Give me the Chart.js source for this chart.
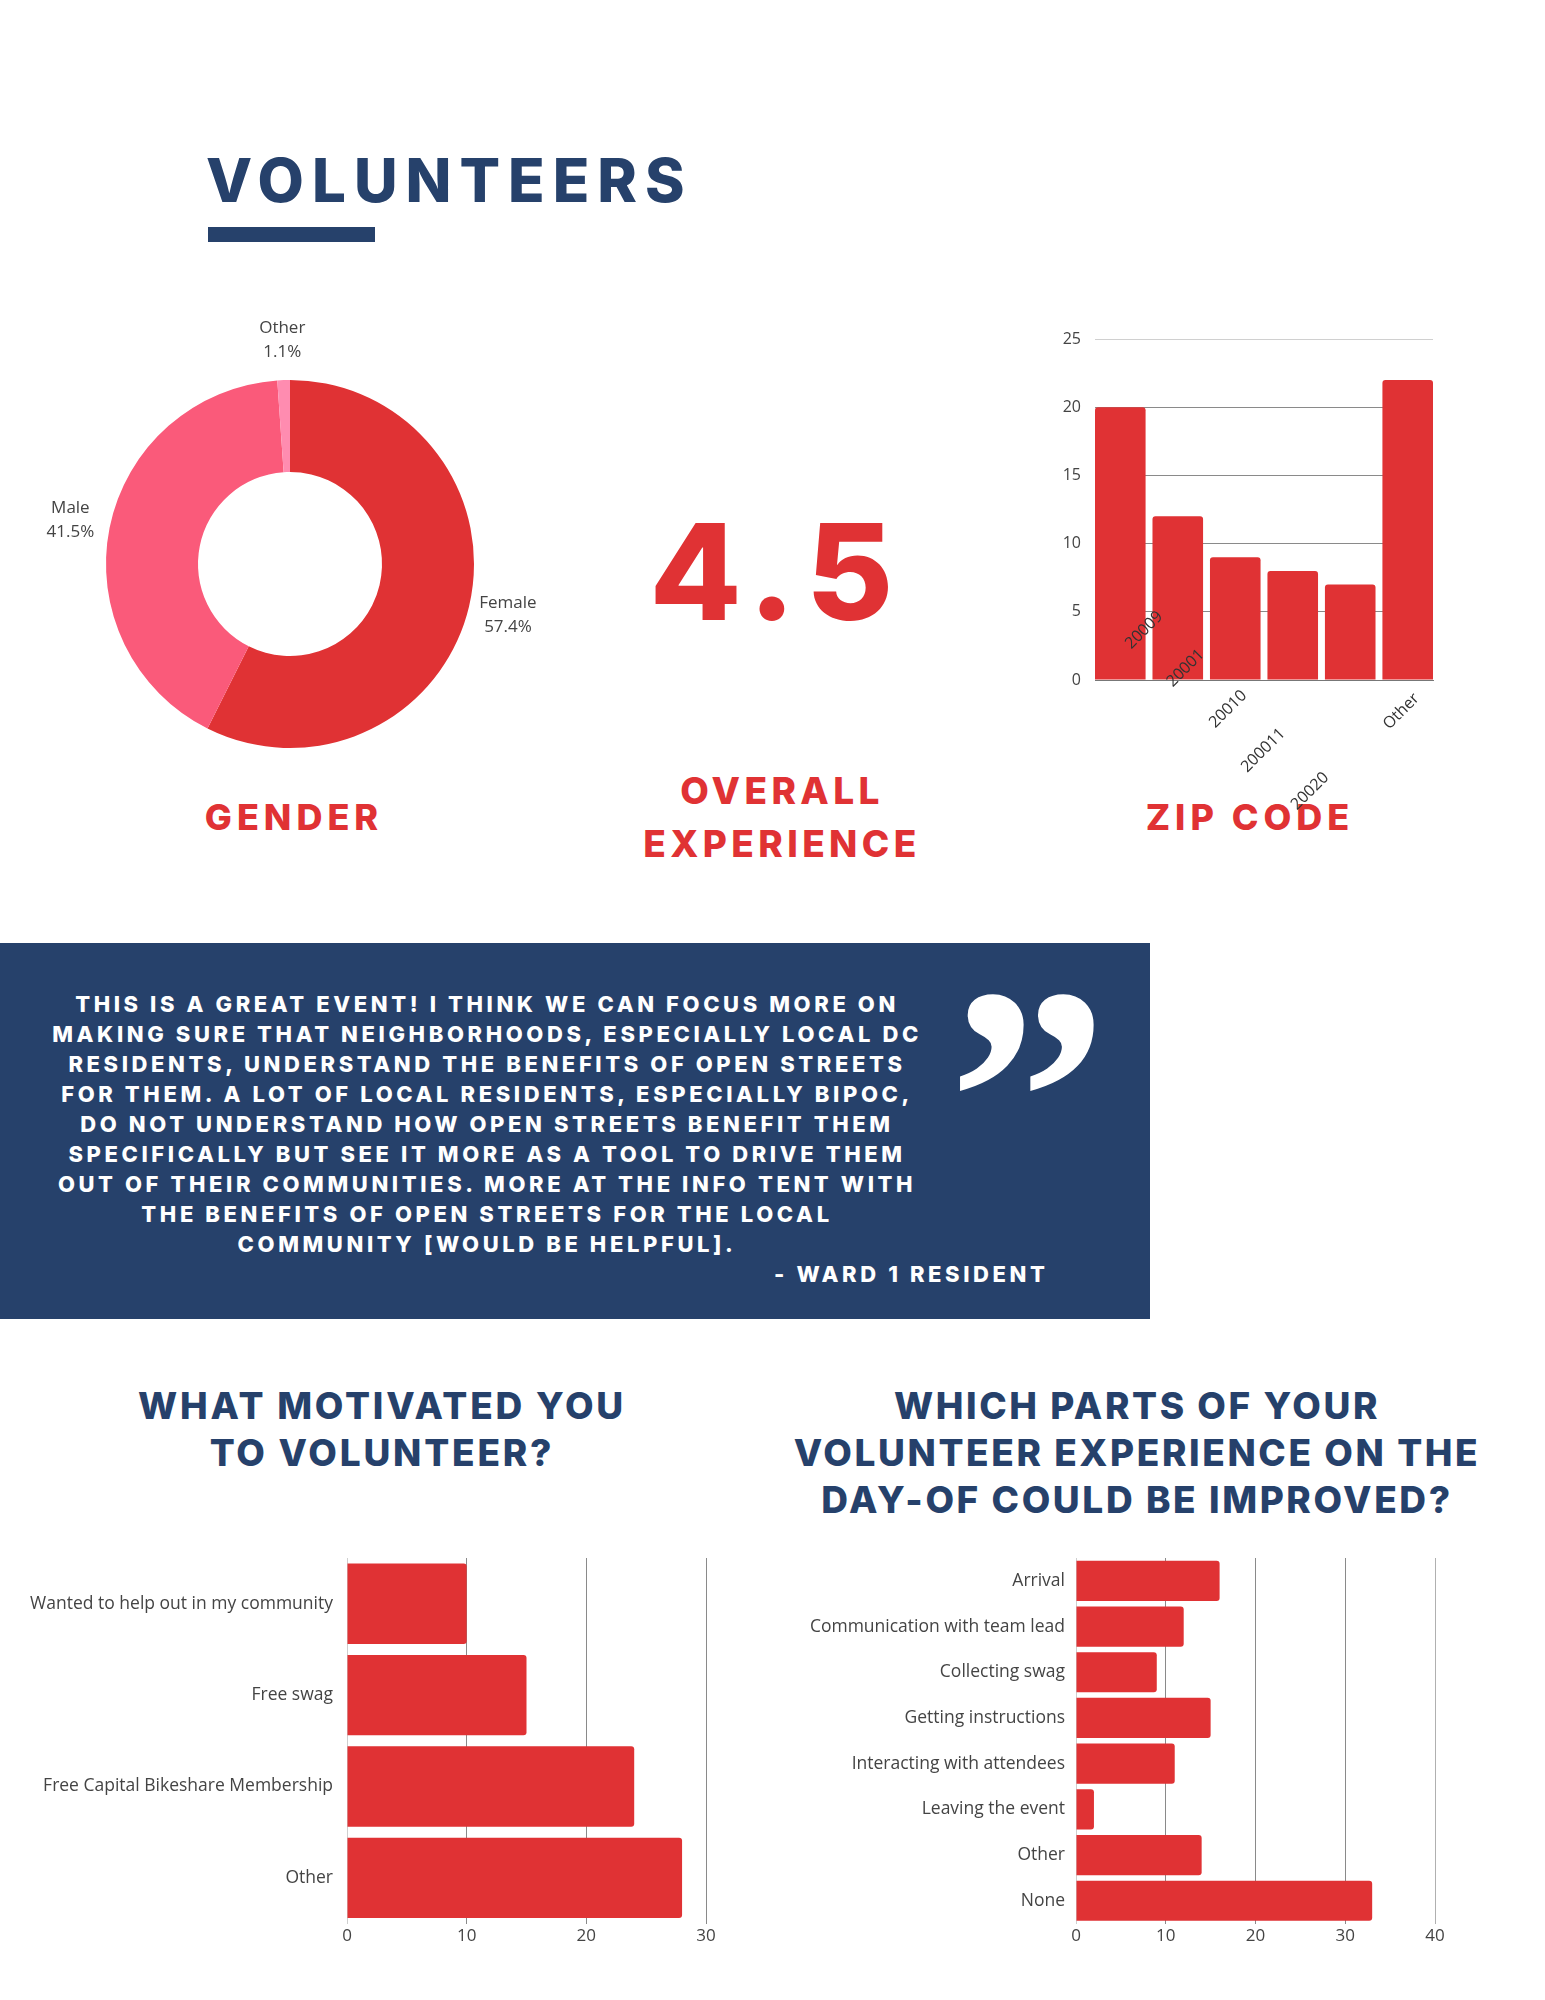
<!DOCTYPE html>
<html>
<head>
<meta charset="utf-8">
<script src="https://cdn.jsdelivr.net/npm/chart.js@4.4.1/dist/chart.umd.min.js"></script>
<style>
  html, body { margin:0; padding:0; background:#fff; }
  #page { position:relative; width:1545px; height:2000px; overflow:hidden; background:#fff; }
  .t { position:absolute; white-space:nowrap; line-height:1; font-family:Inter, 'DejaVu Sans', sans-serif; font-weight:800; }
  .c { transform:translateX(-50%); }
  .navy { color:#26416b; }
  .red { color:#e03234; }
  canvas { position:absolute; }
  #quoteBox { position:absolute; left:0; top:943px; width:1150px; height:376px; background:#26416b; }
  .q { position:absolute; left:487px; transform:translateX(-50%); white-space:nowrap; color:#fff;
       font-family:Inter, 'DejaVu Sans', sans-serif; font-weight:800; font-size:22px; line-height:1; letter-spacing:3.6px; }
</style>
</head>
<body>
<div id="page">
  <div class="t navy" style="left:206px; top:150px; font-size:60px; letter-spacing:8px;">VOLUNTEERS</div>
  <div style="position:absolute; left:208px; top:227px; width:167px; height:15px; background:#26416b;"></div>

  <div class="t red c" style="left:294px; top:799px; font-size:36px; letter-spacing:5px;">GENDER</div>
  <div class="t red c" style="left:777px; top:504px; font-size:134px; letter-spacing:11px;">4.5</div>
  <div class="t red c" style="left:782px; top:772px; font-size:37px; letter-spacing:4.4px;">OVERALL</div>
  <div class="t red c" style="left:782px; top:825px; font-size:37px; letter-spacing:4.4px;">EXPERIENCE</div>
  <div class="t red c" style="left:1250px; top:799px; font-size:36px; letter-spacing:5px;">ZIP CODE</div>

  <div id="quoteBox"></div>
  <div class="q" style="top:993px;">THIS IS A GREAT EVENT! I THINK WE CAN FOCUS MORE ON</div>
  <div class="q" style="top:1023px;">MAKING SURE THAT NEIGHBORHOODS, ESPECIALLY LOCAL DC</div>
  <div class="q" style="top:1053px;">RESIDENTS, UNDERSTAND THE BENEFITS OF OPEN STREETS</div>
  <div class="q" style="top:1083px;">FOR THEM. A LOT OF LOCAL RESIDENTS, ESPECIALLY BIPOC,</div>
  <div class="q" style="top:1113px;">DO NOT UNDERSTAND HOW OPEN STREETS BENEFIT THEM</div>
  <div class="q" style="top:1143px;">SPECIFICALLY BUT SEE IT MORE AS A TOOL TO DRIVE THEM</div>
  <div class="q" style="top:1173px;">OUT OF THEIR COMMUNITIES. MORE AT THE INFO TENT WITH</div>
  <div class="q" style="top:1203px;">THE BENEFITS OF OPEN STREETS FOR THE LOCAL</div>
  <div class="q" style="top:1233px;">COMMUNITY [WOULD BE HELPFUL].</div>
  <div class="q" style="left:774px; transform:none; top:1263px;">- WARD 1 RESIDENT</div>
  <div style="position:absolute; left:948px; top:939px; color:#fff; font-family:'Liberation Serif', serif; font-weight:bold; font-size:320px; line-height:1;">&#8221;</div>

  <div class="t navy c" style="left:382px; top:1387px; font-size:37px; letter-spacing:2.8px;">WHAT MOTIVATED YOU</div>
  <div class="t navy c" style="left:382px; top:1434px; font-size:37px; letter-spacing:2.8px;">TO VOLUNTEER?</div>
  <div class="t navy c" style="left:1137px; top:1387px; font-size:37px; letter-spacing:2.6px;">WHICH PARTS OF YOUR</div>
  <div class="t navy c" style="left:1137px; top:1434px; font-size:37px; letter-spacing:2.6px;">VOLUNTEER EXPERIENCE ON THE</div>
  <div class="t navy c" style="left:1137px; top:1481px; font-size:37px; letter-spacing:2.6px;">DAY-OF COULD BE IMPROVED?</div>

  <canvas id="genderChart" width="580" height="560" style="left:0; top:290px;"></canvas>
  <canvas id="zipChart" width="420" height="530" style="left:1030px; top:310px;"></canvas>
  <canvas id="motiveChart" width="740" height="420" style="left:0; top:1540px;"></canvas>
  <canvas id="improveChart" width="740" height="420" style="left:760px; top:1540px;"></canvas>
</div>

<script>
// data
const genderLabels = ['Female', 'Male', 'Other'];
const genderPct = [57.4, 41.5, 1.1];

const zipCodes = ['20009', '20001', '20010', '200011', '20020', 'Other'];
const zipCounts = [20, 12, 9, 8, 7, 22];
const zipTicks = [0, 5, 10, 15, 20, 25];

const motiveLabels = ['Wanted to help out in my community', 'Free swag', 'Free Capital Bikeshare Membership', 'Other'];
const motiveCounts = [10, 15, 24, 28];

const improveLabels = ['Arrival', 'Communication with team lead', 'Collecting swag', 'Getting instructions',
  'Interacting with attendees', 'Leaving the event', 'Other', 'None'];
const improveCounts = [16, 12, 9, 15, 11, 2, 14, 33];

// the zip labels in the original sit staggered, not under their bars
const zipLabelShift = [[40, -66], [24, -28], [9, 13], [-10, 51], [-24, 95], [9, 16]];

const RED = '#e03234';
const TXT = '#444';

Chart.defaults.font.family = "'Open Sans', sans-serif";
Chart.defaults.animation = false;
Chart.defaults.plugins.legend.display = false;
Chart.defaults.plugins.tooltip.enabled = false;

const donutLabels = {
  id: 'donutLabels',
  afterDraw(chart) {
    const ctx = chart.ctx;
    const meta = chart.getDatasetMeta(0);
    ctx.save();
    ctx.font = "17px 'Open Sans'";
    ctx.fillStyle = TXT;
    ctx.textAlign = 'center';
    ctx.textBaseline = 'middle';
    meta.data.forEach((arc, i) => {
      const p = arc.getProps(['x', 'y', 'startAngle', 'endAngle', 'outerRadius']);
      const mid = (p.startAngle + p.endAngle) / 2;
      const r = p.outerRadius + 40;
      const x = p.x + Math.cos(mid) * r;
      const y = p.y + Math.sin(mid) * r;
      ctx.fillText(genderLabels[i], x, y - 12);
      ctx.fillText(genderPct[i].toFixed(1) + '%', x, y + 12);
    });
    ctx.restore();
  }
};

new Chart(document.getElementById('genderChart'), {
  type: 'doughnut',
  data: { labels: genderLabels, datasets: [{ data: genderPct, backgroundColor: [RED, '#fa5a7a', '#ff8cb0'], borderWidth: 0 }] },
  options: {
    responsive: false,
    cutout: '50%',
    layout: { padding: { left: 106, right: 106, top: 90, bottom: 102 } }
  },
  plugins: [donutLabels]
});

const zipLabels = {
  id: 'zipLabels',
  afterDraw(chart) {
    const ctx = chart.ctx;
    const xs = chart.scales.x;
    const base = chart.scales.y.getPixelForValue(0);
    ctx.save();
    ctx.font = "16px 'Open Sans'";
    ctx.fillStyle = '#333';
    ctx.textAlign = 'right';
    ctx.textBaseline = 'middle';
    zipCodes.forEach((lab, i) => {
      ctx.save();
      ctx.translate(xs.getPixelForValue(i) + zipLabelShift[i][0], base + zipLabelShift[i][1]);
      ctx.rotate(-Math.PI / 4);
      ctx.fillText(lab, 0, 0);
      ctx.restore();
    });
    ctx.restore();
  }
};

// linear x so the outer bars sit flush with the ends of the grid, as in the original
new Chart(document.getElementById('zipChart'), {
  type: 'bar',
  data: { datasets: [{ data: zipCounts.map((v, i) => ({ x: i, y: v })), backgroundColor: RED,
    borderRadius: { topLeft: 3, topRight: 3 }, borderSkipped: 'bottom', barPercentage: 0.88, categoryPercentage: 1 }] },
  options: {
    responsive: false,
    layout: { padding: { left: 0, right: 17, top: 29, bottom: 152 } },
    scales: {
      x: { type: 'linear', offset: false, min: -0.44, max: zipCodes.length - 0.56,
        grid: { display: false }, ticks: { display: false }, border: { display: true, color: '#777' } },
      y: {
        min: 0, max: 25,
        afterBuildTicks: s => { s.ticks = zipTicks.map(v => ({ value: v })); },
        afterFit: s => { s.width = 65; },
        ticks: { padding: 14, color: TXT, font: { size: 16 } },
        grid: { drawTicks: false, color: c => c.tick && c.tick.value === 25 ? '#d0d0d0' : '#8a8a8a' },
        border: { display: false }
      }
    }
  },
  plugins: [zipLabels]
});

function hbar(id, labels, values, max, yWidth, padRight, labelPad) {
  new Chart(document.getElementById(id), {
    type: 'bar',
    data: { labels: labels, datasets: [{ data: values, backgroundColor: RED, borderRadius: 3, borderSkipped: 'start',
      barPercentage: 0.88, categoryPercentage: 1 }] },
    options: {
      responsive: false,
      indexAxis: 'y',
      layout: { padding: { left: 0, right: padRight, top: 18, bottom: 12 } },
      scales: {
        x: {
          min: 0, max: max,
          ticks: { stepSize: 10, padding: 2, color: TXT, font: { size: 17 } },
          grid: { drawTicks: false, color: c => {
            const v = c.tick ? c.tick.value : -1;
            if (v === 0) return '#cfcfcf';
            if (v === max && max === 40) return '#b0b0b0';
            return '#8a8a8a';
          } },
          border: { display: false }
        },
        y: {
          afterFit: s => { s.width = yWidth; },
          grid: { display: false },
          ticks: { padding: labelPad, color: TXT, font: { size: 17.5 } },
          border: { display: false }
        }
      }
    }
  });
}

hbar('motiveChart', motiveLabels, motiveCounts, 30, 347, 34, 6);
hbar('improveChart', improveLabels, improveCounts, 40, 316, 65, 3);
</script>
</body>
</html>
